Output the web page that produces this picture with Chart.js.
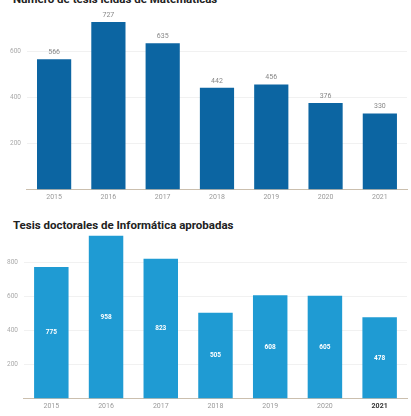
<!DOCTYPE html>
<html>
<head>
<meta charset="utf-8">
<script src="https://cdn.jsdelivr.net/npm/chart.js@4"></script>
<style>
  body { margin: 0; width: 411px; height: 416px; overflow: hidden; background: #fff; font-family: Roboto, sans-serif; position: relative; }
  .title { position: absolute; left: 13px; font-weight: bold; font-size: 11.5px; color: #222; white-space: nowrap; }
  .box { position: absolute; left: 0; width: 411px; }
</style>
</head>
<body>
<div class="title" style="top:-8px">Número de tesis leídas de Matemáticas</div>
<div class="box" style="top:0px;height:204px"><canvas id="mathChart"></canvas></div>
<div class="title" style="top:218px">Tesis doctorales de Informática aprobadas</div>
<div class="box" style="top:223px;height:190px"><canvas id="infoChart"></canvas></div>
<script>
const years = ['2015', '2016', '2017', '2018', '2019', '2020', '2021'];
const mathTheses = [566, 727, 635, 442, 456, 376, 330];
const infoTheses = [775, 958, 823, 505, 608, 605, 478];
const yTickValues = [200, 400, 600, 800];

// draws the value of each bar, above it or in its middle
const valueLabels = {
  id: 'valueLabels',
  afterDatasetsDraw(chart, args, opts) {
    const ctx = chart.ctx;
    const meta = chart.getDatasetMeta(0);
    ctx.save();
    ctx.font = opts.font;
    ctx.fillStyle = opts.color;
    ctx.textAlign = 'center';
    ctx.textBaseline = 'middle';
    meta.data.forEach((bar, i) => {
      const v = chart.data.datasets[0].data[i];
      const y = opts.inside ? (bar.y + bar.base) / 2 : bar.y - 7;
      ctx.fillText(String(v), bar.x, y);
    });
    ctx.restore();
  }
};

const makeChart = (id, values, color, max, padLeft, labelOpts, boldLast) => new Chart(document.getElementById(id), {
  type: 'bar',
  data: {
    labels: years,
    datasets: [{ data: values, backgroundColor: color, barPercentage: 0.63, categoryPercentage: 1 }]
  },
  options: {
    responsive: true,
    maintainAspectRatio: false,
    animation: false,
    layout: { padding: { left: padLeft, right: 4, top: 0, bottom: 0 } },
    plugins: { legend: { display: false }, tooltip: { enabled: false }, valueLabels: labelOpts },
    scales: {
      x: {
        grid: { display: false, drawTicks: false },
        border: { color: '#cbbfae', width: 1 },
        ticks: {
          color: (c) => boldLast && c.index === years.length - 1 ? '#333' : '#999',
          font: (c) => ({ family: 'Roboto', size: 7, weight: boldLast && c.index === years.length - 1 ? 'bold' : 'normal' }),
          padding: 3
        }
      },
      y: {
        min: 0,
        max: max,
        border: { display: false },
        grid: { color: '#f1f1f1', drawTicks: false },
        afterBuildTicks: (scale) => {
          scale.ticks = yTickValues.filter(v => v < max).map(v => ({ value: v }));
        },
        ticks: {
          color: '#aaa',
          font: { family: 'Roboto', size: 6.5 },
          padding: 6,
          callback: (v) => String(v)
        }
      }
    }
  },
  plugins: [valueLabels]
});

makeChart('mathChart', mathTheses, '#0c65a2', 780, 4,
  { font: '7px Roboto', color: '#888', inside: false }, false);
makeChart('infoChart', infoTheses, '#1f9bd3', 975, 1,
  { font: 'bold 6.5px Roboto', color: '#fff', inside: true }, true);
</script>
</body>
</html>
